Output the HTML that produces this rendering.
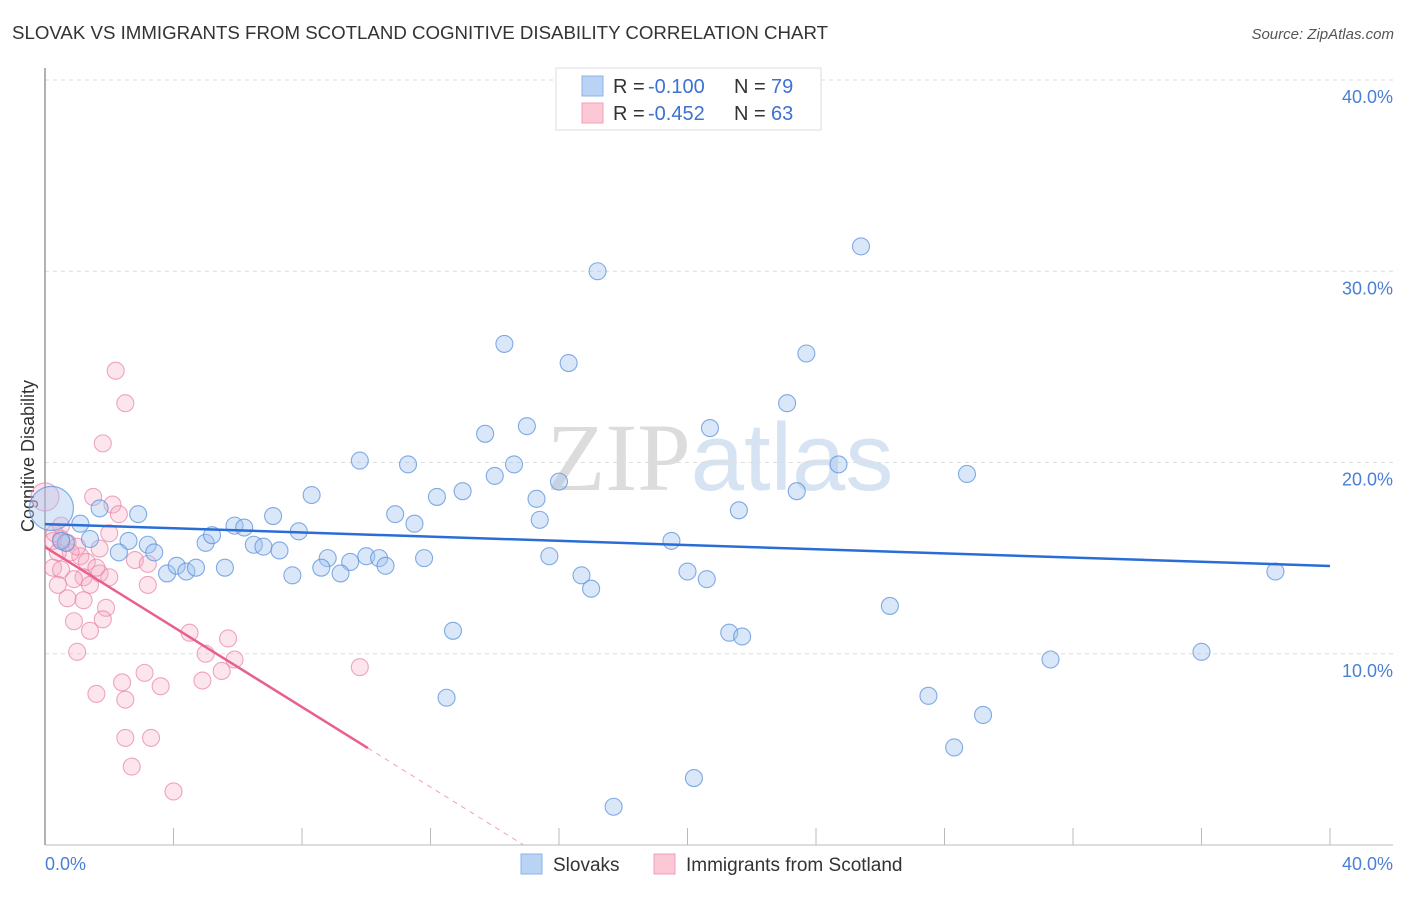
<!DOCTYPE html>
<html><head><meta charset="utf-8">
<style>
body{margin:0;background:#fff;font-family:"Liberation Sans",sans-serif;}
svg text{font-family:"Liberation Sans",sans-serif;}
</style></head>
<body>
<svg id="chart" width="1406" height="892" xmlns="http://www.w3.org/2000/svg">
<text x="12" y="39" font-size="18" fill="#333" textLength="816" lengthAdjust="spacingAndGlyphs">SLOVAK VS IMMIGRANTS FROM SCOTLAND COGNITIVE DISABILITY CORRELATION CHART</text>
<text x="1394" y="39" font-size="15" fill="#555" font-style="italic" text-anchor="end">Source: ZipAtlas.com</text>
<text x="720" y="490" font-size="96" text-anchor="middle" fill="#e4e4e4"><tspan font-family="Liberation Serif" fill="#dcdcdc">ZIP</tspan><tspan fill="#d6e3f3">atlas</tspan></text>
<g id="grid"></g>
<line x1="45" y1="68" x2="45" y2="845" stroke="#999" stroke-width="1.5"/>
<line x1="45" y1="845" x2="1393" y2="845" stroke="#bbb" stroke-width="1"/>
<text transform="translate(34,456) rotate(-90)" font-size="18" fill="#333" text-anchor="middle">Cognitive Disability</text>
<text x="45" y="870" font-size="18" fill="#4a7fd4">0.0%</text>
<text x="1393" y="870" font-size="18" fill="#4a7fd4" text-anchor="end">40.0%</text>
<g id="points"></g>
<g id="lines"></g>
<g>
<rect x="556" y="68" width="265" height="62" fill="#fff" stroke="#ddd"/>
<rect x="582" y="76" width="21" height="20" fill="#b9d3f5" stroke="#8db3e8"/>
<rect x="582" y="103" width="21" height="20" fill="#fcc8d6" stroke="#f0a0b8"/>
<text x="613" y="93" font-size="20" fill="#333">R =</text>
<text x="648" y="93" font-size="20" fill="#3d72d0">-0.100</text>
<text x="734" y="93" font-size="20" fill="#333">N =</text>
<text x="771" y="93" font-size="20" fill="#3d72d0">79</text>
<text x="613" y="120" font-size="20" fill="#333">R =</text>
<text x="648" y="120" font-size="20" fill="#3d72d0">-0.452</text>
<text x="734" y="120" font-size="20" fill="#333">N =</text>
<text x="771" y="120" font-size="20" fill="#3d72d0">63</text>
</g>
<g>
<rect x="521" y="854" width="21" height="20" fill="#b9d3f5" stroke="#8db3e8"/>
<text x="553" y="871" font-size="19" fill="#333">Slovaks</text>
<rect x="654" y="854" width="21" height="20" fill="#fcc8d6" stroke="#f0a0b8"/>
<text x="686" y="871" font-size="19" fill="#333">Immigrants from Scotland</text>
</g>
</svg>
<script>
const yTicks=[10,20,30,40];
const yTickLabels=["10.0%","20.0%","30.0%","40.0%"];
const xTicks=[4,8,12,16,20,24,28,32,36,40];
const slovakX=[17.2,25.4,14.3,16.3,23.7,23.1,13.7,15.0,20.7,9.8,11.3,14.6,24.7,28.7,8.3,12.2,13.0,14.0,15.3,16.0,23.4,1.7,2.9,7.1,10.9,11.5,15.4,21.6,1.1,5.9,6.2,7.9,19.5,1.4,2.6,3.2,3.4,2.3,5.0,5.2,6.5,6.8,7.3,8.8,9.5,10.0,10.4,10.6,11.8,15.7,3.8,4.1,4.4,4.7,5.6,7.7,8.6,9.2,16.7,17.0,20.0,20.6,26.3,12.7,21.3,21.7,31.3,36.0,38.3,12.5,27.5,29.2,28.3,20.2,17.7,0.65,0.5,0.2];
const slovakY=[30.0,31.3,26.2,25.2,25.7,23.1,21.5,21.9,21.8,20.1,19.9,19.9,19.9,19.4,18.3,18.2,18.5,19.3,18.1,19.0,18.5,17.6,17.3,17.2,17.3,16.8,17.0,17.5,16.8,16.7,16.6,16.4,15.9,16.0,15.9,15.7,15.3,15.3,15.8,16.2,15.7,15.6,15.4,15.0,14.8,15.1,15.0,14.6,15.0,15.1,14.2,14.6,14.3,14.5,14.5,14.1,14.5,14.2,14.1,13.4,14.3,13.9,12.5,11.2,11.1,10.9,9.7,10.1,14.3,7.7,7.8,6.8,5.1,3.5,2.0,15.8,15.9,17.6];
const slovakSize=slovakX.map((v,i)=>i===slovakX.length-1?3:1);
const scotX=[2.2,2.5,1.8,1.5,2.1,2.3,0.5,0.25,0.7,2.0,1.7,1.1,1.3,2.8,3.2,0.25,0.5,1.2,1.7,2.0,1.4,0.4,3.2,0.7,1.2,1.9,1.8,0.9,1.4,1.0,4.5,5.7,5.0,5.9,5.5,4.9,9.8,3.1,2.4,3.6,1.6,2.5,2.5,3.3,2.7,4.0,0.5,0.8,1.0,0.3,0.9,1.6,0.4,0.0];
const scotY=[24.8,23.1,21.0,18.2,17.8,17.3,16.7,15.9,15.8,16.3,15.5,15.1,14.8,14.9,14.7,14.5,14.4,14.0,14.2,14.0,13.6,13.6,13.6,12.9,12.8,12.4,11.8,11.7,11.2,10.1,11.1,10.8,10.0,9.7,9.1,8.6,9.3,9.0,8.5,8.3,7.9,7.6,5.6,5.6,4.1,2.8,16.0,15.3,15.6,16.3,13.9,14.5,15.3,18.2];
const slovakTrend=[16.78,14.59];
const scotTrend=[15.58,5.07,10.05];
const X=v=>45+v*32.125, Y=v=>845-v*19.125;
const NS="http://www.w3.org/2000/svg";
const grid=document.getElementById('grid');
yTicks.forEach((t,i)=>{
 const l=document.createElementNS(NS,'line');
 
 
 l.setAttribute('x1',45);l.setAttribute('x2',1393);l.setAttribute('y1',Y(t));l.setAttribute('y2',Y(t));
 l.setAttribute('stroke','#ddd');l.setAttribute('stroke-dasharray','4,4');
 grid.appendChild(l);
 const tx=document.createElementNS(NS,'text');
 
 
 tx.setAttribute('x',1393);tx.setAttribute('y',Y(t)+23);tx.setAttribute('text-anchor','end');
 tx.setAttribute('font-size','18');tx.setAttribute('fill','#4a7fd4');tx.textContent=yTickLabels[i];
 grid.appendChild(tx);
});
xTicks.forEach(t=>{
 const l=document.createElementNS(NS,'line');
 
 
 l.setAttribute('x1',X(t));l.setAttribute('x2',X(t));l.setAttribute('y1',828);l.setAttribute('y2',845);
 l.setAttribute('stroke','#bbb');
 grid.appendChild(l);
});
const pts=document.getElementById('points');
function dot(x,y,r,fill,stroke,name){
 const c=document.createElementNS(NS,'circle');
 
 
 c.setAttribute('cx',X(x));c.setAttribute('cy',Y(y));c.setAttribute('r',r);
 c.setAttribute('fill',fill);c.setAttribute('stroke',stroke);c.setAttribute('stroke-width','1.1');
 pts.appendChild(c);
}
scotX.forEach((x,i)=>dot(x,scotY[i],i===scotX.length-1?14:8.5,'rgba(246,170,196,0.3)','rgba(232,130,165,0.7)','scotland-point'));
slovakX.forEach((x,i)=>dot(x,slovakY[i],slovakSize[i]>1?22:8.5,'rgba(160,196,240,0.4)','rgba(90,145,220,0.75)','slovak-point'));
const lines=document.getElementById('lines');
function ln(x1,y1,x2,y2,col,w,dash,name){
 const l=document.createElementNS(NS,'line');
 
 
 l.setAttribute('x1',X(x1));l.setAttribute('y1',Y(y1));l.setAttribute('x2',X(x2));l.setAttribute('y2',Y(y2));
 l.setAttribute('stroke',col);l.setAttribute('stroke-width',w);
 if(dash)l.setAttribute('stroke-dasharray',dash);
 lines.appendChild(l);
}
ln(0,slovakTrend[0],40,slovakTrend[1],'#2a6dd6',2.5,null,'slovak-trend-line');
const sl=(scotTrend[1]-scotTrend[0])/scotTrend[2];
ln(0,scotTrend[0],scotTrend[2],scotTrend[1],'#e8608c',2.5,null,'scotland-trend-line');
ln(scotTrend[2],scotTrend[1],-scotTrend[0]/sl,0,'#f0a0b8',1,'5,5','scotland-trend-extension');
</script>
</body></html>
